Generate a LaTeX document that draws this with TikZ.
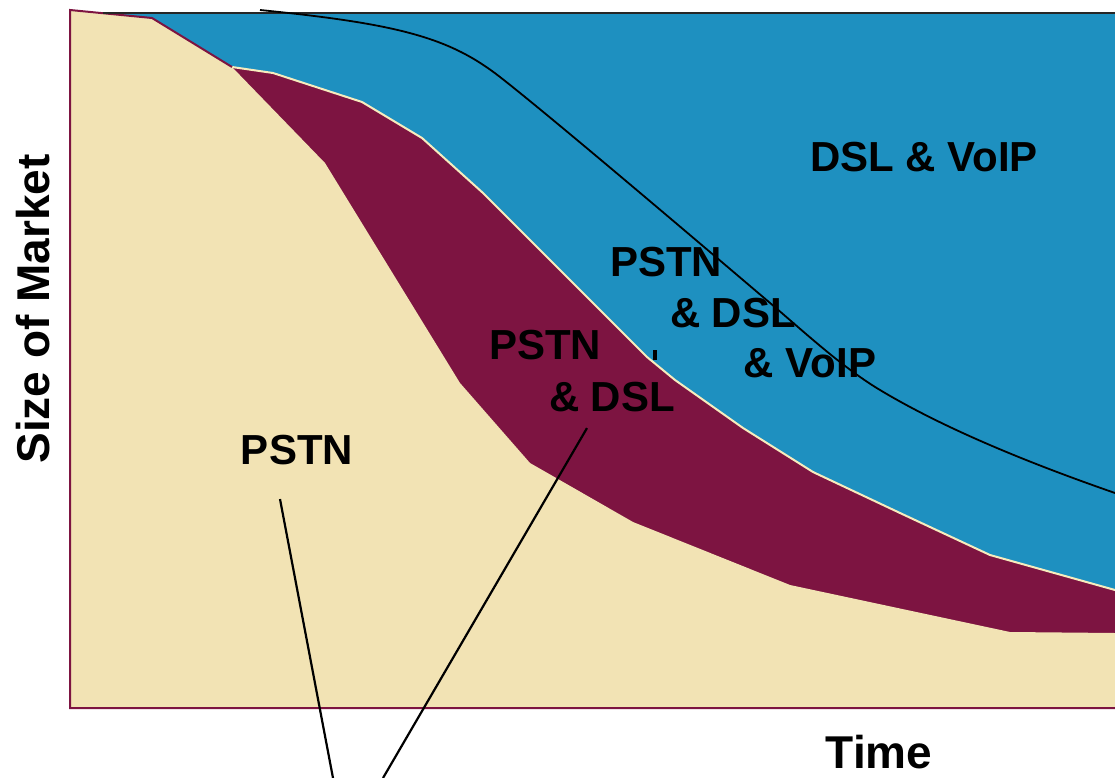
\documentclass[tikz,border=0pt]{standalone}
\usepackage{fontspec}
\setmainfont{Liberation Sans}
\usetikzlibrary{positioning}
\definecolor{mktbeige}{RGB}{242,227,180}
\definecolor{mktwine}{RGB}{125,20,65}
\definecolor{mktblue}{RGB}{30,144,192}
\definecolor{mktcream}{RGB}{247,236,190}

\begin{document}
\begin{tikzpicture}[x=1pt, y=-1pt,
      area/.style={inner sep=0pt, font=\fontsize{42}{48}\selectfont\bfseries},
      axislabel/.style={inner sep=0pt, font=\fontsize{46}{52}\selectfont\bfseries},
      pointer/.style={line width=2.2pt, black}
    ]
      \useasboundingbox (0,0) rectangle (1115,778);

      % market shares, back to front
      \fill[mktblue] (103,13) -- (1115,13) -- (1115,708) -- (70,708) -- (70,10) -- cycle;
      \fill[mktwine] (232,67) -- (273,73) -- (362,102) -- (422,138) -- (483,193) -- (520,230)
        -- (580,290) -- (647,357) -- (675,380) -- (743,428) -- (813,472) -- (900,513)
        -- (990,555) -- (1115,590) -- (1115,708) -- (70,708) -- (70,10) -- (152,18) -- cycle;
      \fill[mktbeige] (70,10) -- (152,18) -- (232,67) -- (325,163) -- (460,383) -- (530,463)
        -- (633,522) -- (790,585) -- (1010,632) -- (1115,633) -- (1115,708) -- (70,708) -- cycle;

      \draw[mktcream, line width=2pt] (232,67) -- (273,73) -- (362,102) -- (422,138) -- (483,193)
        -- (520,230) -- (580,290) -- (647,357) -- (675,380) -- (743,428) -- (813,472)
        -- (900,513) -- (990,555) -- (1115,590);
      \draw[mktwine, line width=2pt] (1115,708) -- (70,708) -- (70,10) -- (152,18) -- (232,67);
      \draw[black!85, line width=2pt] (103,13) -- (1115,13);

      % trend curve
      \draw[line width=1.8pt] (260,10) .. controls (400,24) and (450,38) .. (500,77)
        .. controls (550,116) and (690,235) .. (763,297)
        .. controls (800,328) and (840,366) .. (880,390)
        .. controls (940,426) and (1020,460) .. (1115,493);
      \fill (653,350) rectangle (657,360);

      \node[area] (dslvoip) at (924,157) {DSL \& VoIP};
      \node[area] (pstnblue) at (666,262) {PSTN};
      \node[area] (dslblue) at (733,313) {\& DSL};
      \node[area] (voipblue) at (810,363) {\& VoIP};
      \node[area] (pstnwine) at (545,345) {PSTN};
      \node[area] (dslwine) at (612,397) {\& DSL};
      \node[area] (pstnbeige) at (297,450) {PSTN};

      \node[axislabel] (timelabel) at (879,752) {Time};
      \node[axislabel, rotate=90] (sizelabel) at (33,309) {Size of Market};

      \coordinate (pstntip) at ([xshift=-17pt, yshift=-34pt]pstnbeige.south);
      \coordinate (dsltip) at ([xshift=-25pt, yshift=-16pt]dslwine.south);
      \coordinate (pstnfoot) at (333,778);
      \coordinate (dslfoot) at (383,778);
      \draw[pointer] (pstntip) -- (pstnfoot);
      \draw[pointer] (dsltip) -- (dslfoot);
    \end{tikzpicture}
\end{document}
